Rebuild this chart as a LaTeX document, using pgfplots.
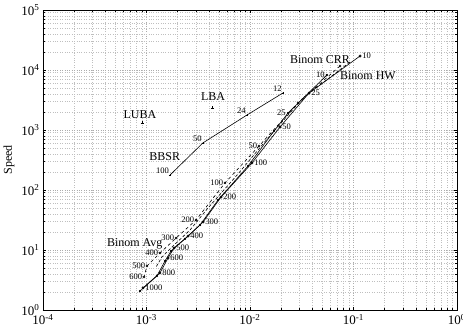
\documentclass[border=0pt]{standalone}
\usepackage{fontspec}
\setmainfont{Liberation Serif}
\usepackage{pgfplots}
\pgfplotsset{compat=1.18}
\begin{document}
\begin{tikzpicture}
\begin{axis}[at={(0,0)}, anchor=south west, scale only axis,
  width=414pt, height=300pt,
  xmode=log, ymode=log, xmin=1e-4, xmax=1, ymin=1, ymax=1e5,
  xtick={1e-4,1e-3,1e-2,1e-1,1},
  xticklabels={10\textsuperscript{-4},10\textsuperscript{-3},10\textsuperscript{-2},10\textsuperscript{-1},10\textsuperscript{0}},
  ytick={1,10,100,1000,10000,100000},
  yticklabels={10\textsuperscript{0},10\textsuperscript{1},10\textsuperscript{2},10\textsuperscript{3},10\textsuperscript{4},10\textsuperscript{5}},
  tick label style={font=\fontsize{13}{13}\selectfont},
  xticklabel style={yshift=-1pt},
  ylabel={Speed}, ylabel style={font=\fontsize{12}{12}\selectfont},
  grid=both,
  major grid style={dotted, gray!65, line width=0.5pt},
  minor grid style={dotted, gray!50, line width=0.5pt},
  tick style={black, line width=0.5pt},
  major tick length=3pt, minor tick length=2pt,
  axis line style={line width=0.6pt},
  every axis plot/.append style={line width=0.6pt},
  clip=false,
]
% BBSR
\addplot[black, mark=+, mark size=1.2pt,
  nodes near coords, point meta=explicit symbolic,
  every node near coord/.append style={anchor=south east, font=\fontsize{8.5}{8.5}\selectfont, inner sep=1pt}]
  coordinates {(0.00169,178)[100] (0.0035,607)[50] (0.00935,1778)[24] (0.0208,4140)[12]};
% LUBA, LBA
\addplot[black, only marks, mark=+, mark size=1.5pt] coordinates {(9.06e-4,1309)};
\addplot[black, only marks, mark=+, mark size=1.5pt] coordinates {(4.3e-3,2328)};
% Binom CRR
\addplot[black, mark=o, mark size=1.1pt,
  nodes near coords, point meta=explicit symbolic,
  every node near coord/.append style={anchor=west, font=\fontsize{8.5}{8.5}\selectfont, inner sep=2pt}]
  coordinates {(0.1156,17100)[10] (0.0372,4140)[25] (0.0195,1122)[50] (0.01045,282)[100]
   (0.00525,76.4)[200] (0.00352,29.3)[300] (0.00252,17.1)[400] (0.001845,10.8)[500]
   (0.001615,7.36)[600] (0.001349,4.14)[800] (0.000925,2.33)[1000]};
% Binom HW
\addplot[black, mark=*, mark size=0.8pt,
  nodes near coords, point meta=explicit symbolic,
  every node near coord/.append style={anchor=east, font=\fontsize{8.5}{8.5}\selectfont, inner sep=2pt}]
  coordinates {(0.0554,8260)[10] (0.0233,1920)[25] (0.01706,962)[] (0.00957,251)[]
   (0.00491,68.1)[] (0.00329,26.1)[] (0.002355,15.3)[] (0.001726,9.62)[]
   (0.00151,6.56)[] (0.00126,3.69)[] (0.000865,2.07)[]};
% second dashed line
\addplot[black, dash pattern=on 3pt off 2pt, mark=none]
  coordinates {(0.0925,13600) (0.0325,3415) (0.01493,736) (0.00766,185) (0.00393,50.1)
   (0.00263,21.5) (0.001845,12.1) (0.00141,7.65) (0.001236,5.21)};
% Binom Avg
\addplot[black, dashed, mark=x, mark size=1.5pt, mark options={solid},
  nodes near coords, point meta=explicit symbolic,
  every node near coord/.append style={anchor=east, font=\fontsize{8.5}{8.5}\selectfont, inner sep=1.5pt}]
  coordinates {(0.0741,11660)[] (0.0291,2818)[] (0.01222,541)[50] (0.00573,131)[100]
   (0.00301,31.6)[200] (0.00193,15.8)[300] (0.00135,8.91)[400] (0.00101,5.41)[500]
   (0.000946,3.55)[600]};
% text labels
\node[font=\fontsize{12}{12}\selectfont] at (axis cs:8.65e-4,1778) {LUBA};
\node[font=\fontsize{12}{12}\selectfont] at (axis cs:4.4e-3,3548) {LBA};
\node[font=\fontsize{12}{12}\selectfont] at (axis cs:1.5e-3,355) {BBSR};
\node[font=\fontsize{12}{12}\selectfont] at (axis cs:7.7e-4,12.6) {Binom Avg};
\node[font=\fontsize{12}{12}\selectfont] at (axis cs:0.0474,14680) {Binom CRR};
\node[font=\fontsize{12}{12}\selectfont] at (axis cs:0.138,7943) {Binom HW};
\end{axis}
\pgfresetboundingbox
\useasboundingbox (-43pt,-23pt) rectangle (420pt,310pt);
\end{tikzpicture}
\end{document}
